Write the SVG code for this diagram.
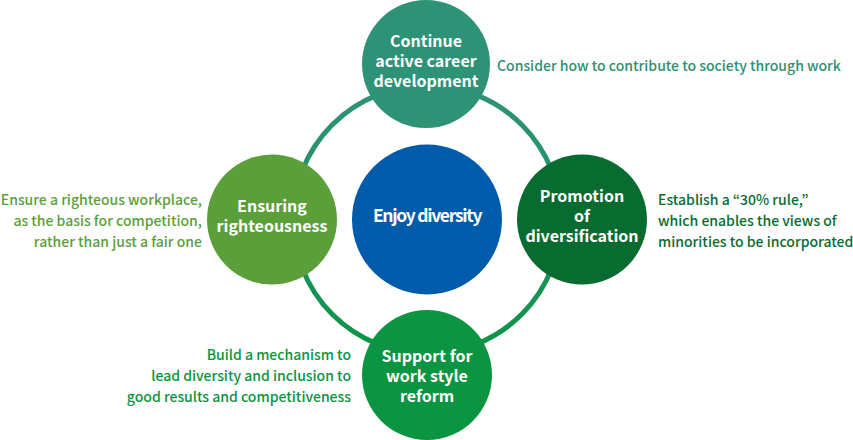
<svg xmlns="http://www.w3.org/2000/svg" width="853" height="440" viewBox="0 0 853 440">
<style>
text{font-family:"Noto Sans CJK JP","Noto Sans",sans-serif}
.nt{fill:#fff;font-size:16px;font-weight:bold;text-anchor:middle}
.an{font-size:14px;font-weight:500}
.r{text-anchor:end}
</style>
<defs>
<linearGradient id="rg" x1="0" y1="85" x2="0" y2="353" gradientUnits="userSpaceOnUse">
<stop offset="0" stop-color="#2e9276"/>
<stop offset="0.45" stop-color="#24926a"/>
<stop offset="1" stop-color="#0b9545"/>
</linearGradient>
</defs>
<g id="connectors">
<circle cx="427" cy="219.5" r="134" fill="none" stroke="url(#rg)" stroke-width="5"/>
</g>
<g id="center">
<circle cx="427" cy="219.5" r="75" fill="#005bab"/>
<text x="427" y="222" fill="#fff" font-size="17.5" font-weight="bold" text-anchor="middle" letter-spacing="-1.3">Enjoy diversity</text>
</g>
<g id="career">
<circle cx="426" cy="64" r="64" fill="#2e9276"/>
<text class="nt" x="426" y="47">Continue</text>
<text class="nt" x="426" y="67">active career</text>
<text class="nt" x="426" y="87">development</text>
</g>
<g id="righteousness">
<circle cx="272" cy="219.5" r="65" fill="#5b9f3a"/>
<text class="nt" x="272" y="212">Ensuring</text>
<text class="nt" x="272" y="232">righteousness</text>
</g>
<g id="diversification">
<circle cx="582" cy="219.5" r="65" fill="#086c31"/>
<text class="nt" x="582" y="202">Promotion</text>
<text class="nt" x="582" y="222">of</text>
<text class="nt" x="582" y="242">diversification</text>
</g>
<g id="workstyle">
<circle cx="427" cy="375" r="65" fill="#0b9441"/>
<text class="nt" x="427" y="362">Support for</text>
<text class="nt" x="427" y="382">work style</text>
<text class="nt" x="427" y="402">reform</text>
</g>
<g id="note-career">
<text class="an" x="497" y="71" fill="#2e8f72">Consider how to contribute to society through work</text>
</g>
<g id="note-righteousness">
<text class="an r" x="202" y="205" fill="#5b9f3a">Ensure a righteous workplace,</text>
<text class="an r" x="202" y="226" fill="#5b9f3a">as the basis for competition,</text>
<text class="an r" x="202" y="247" fill="#5b9f3a">rather than just a fair one</text>
</g>
<g id="note-diversification">
<text class="an" x="658" y="205" fill="#086c31">Establish a “30% rule,”</text>
<text class="an" x="658" y="226" fill="#086c31">which enables the views of</text>
<text class="an" x="658" y="247" fill="#086c31">minorities to be incorporated</text>
</g>
<g id="note-workstyle">
<text class="an r" x="351" y="360" fill="#0b9441">Build a mechanism to</text>
<text class="an r" x="351" y="381" fill="#0b9441">lead diversity and inclusion to</text>
<text class="an r" x="351" y="402" fill="#0b9441">good results and competitiveness</text>
</g>
</svg>
